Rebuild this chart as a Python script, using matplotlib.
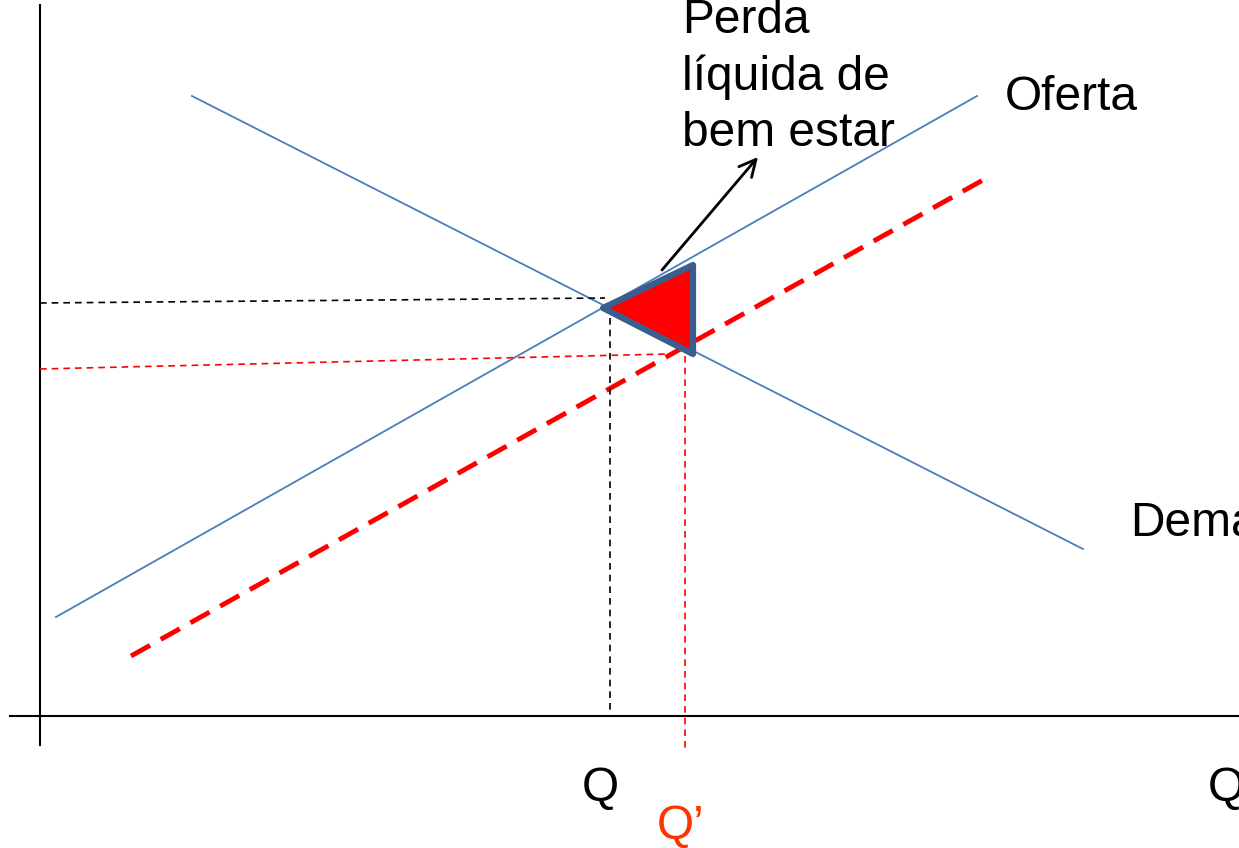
import matplotlib
matplotlib.use("Agg")
import matplotlib.pyplot as plt
from matplotlib.patches import Polygon

plt.rcParams['font.family'] = ['Liberation Sans', 'DejaVu Sans']

# Data (coordinates in diagram units, y grows downward)
demand_x = [192, 1083]
demand_y = [96, 549]
supply_x = [56, 977]
supply_y = [617, 96]
supply_new_x = [131, 983]
supply_new_y = [656, 180]
eq_h_x = [40, 605]
eq_h_y = [303, 298]
eq_v_x = [610, 610]
eq_v_y = [318, 712]
new_h_x = [40, 667]
new_h_y = [369, 354]
new_v_x = [685, 685]
new_v_y = [356, 750]
dwl_x = [603, 693, 693]
dwl_y = [308, 265, 354]
labels = ["Perda\nlíquida de\nbem estar", "Oferta", "Dema", "Q", "Q’", "Q"]

W, H = 1239, 848
fig = plt.figure(figsize=(W / 100, H / 100), dpi=100)
ax = fig.add_axes([0, 0, 1, 1])
ax.set_xlim(0, W)
ax.set_ylim(H, 0)
ax.axis('off')

# axes
ax.plot([40, 40], [5, 745], color='black', lw=1.5)
ax.plot([10, W], [716, 716], color='black', lw=1.5)

blue = '#4A7EBB'
ax.plot(demand_x, demand_y, color=blue, lw=1.3)
ax.plot(supply_x, supply_y, color=blue, lw=1.3)
ax.plot(supply_new_x, supply_new_y, color='#FF0000', lw=3.5, dashes=(4.5, 2.5))

ax.plot(eq_h_x, eq_h_y, color='black', lw=1.2, dashes=(4, 3))
ax.plot(eq_v_x, eq_v_y, color='black', lw=1.2, dashes=(4, 3))
ax.plot(new_h_x, new_h_y, color='#FF0000', lw=1.2, dashes=(4, 3))
ax.plot(new_v_x, new_v_y, color='#FF0000', lw=1.2, dashes=(4, 3))

tri = Polygon(list(zip(dwl_x, dwl_y)), closed=True, facecolor='#FF0000',
              edgecolor='#3A5F8F', lw=4.5, joinstyle='round', zorder=5)
ax.add_patch(tri)

ax.annotate('', xy=(758, 157), xytext=(662, 270),
            arrowprops=dict(arrowstyle='->', color='black', lw=2,
                            mutation_scale=30, shrinkA=0, shrinkB=0))

fs = 34.5
ax.text(682, 77, labels[0], fontsize=fs, ha='left', va='center',
        linespacing=1.32)
ax.text(1005, 97, labels[1], fontsize=fs, ha='left', va='center')
ax.text(1130, 524, labels[2], fontsize=fs, ha='left', va='center')
ax.text(582, 789, labels[3], fontsize=fs, ha='left', va='center')
ax.text(657, 826, labels[4], fontsize=fs, ha='left', va='center', color='#FF3300')
ax.text(1208, 789, labels[5], fontsize=fs, ha='left', va='center')

fig.savefig('out.png', dpi=100)
